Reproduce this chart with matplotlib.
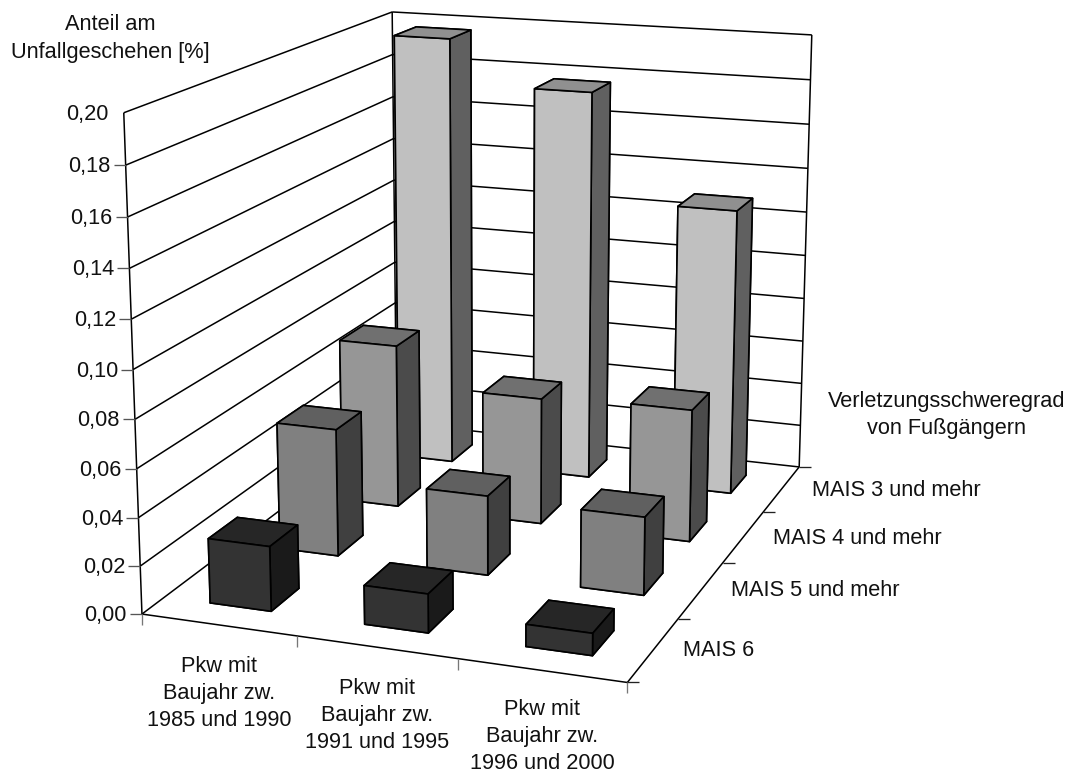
import numpy as np
import matplotlib
matplotlib.use("Agg")
import matplotlib.pyplot as plt
from matplotlib.lines import Line2D
from mpl_toolkits.mplot3d.art3d import Line3DCollection

plt.rcParams['font.family'] = ['Liberation Sans', 'DejaVu Sans']

vehicle_groups = ["Pkw mit\nBaujahr zw.\n1985 und 1990",
                  "Pkw mit\nBaujahr zw.\n1991 und 1995",
                  "Pkw mit\nBaujahr zw.\n1996 und 2000"]
severity_groups = ["MAIS 6", "MAIS 5 und mehr", "MAIS 4 und mehr", "MAIS 3 und mehr"]
z_ticks = [0.00, 0.02, 0.04, 0.06, 0.08, 0.10, 0.12, 0.14, 0.16, 0.18, 0.20]

mais_6 = [0.027, 0.016, 0.009]
mais_5 = [0.055, 0.034, 0.033]
mais_4 = [0.073, 0.056, 0.058]
mais_3 = [0.197, 0.177, 0.129]
series = [mais_6, mais_5, mais_4, mais_3]

# front, side and top shades for each series
face_colors = ["#333333", "#808080", "#969696", "#c0c0c0"]
side_colors = ["#1a1a1a", "#404040", "#4b4b4b", "#606060"]
top_colors = ["#262626", "#606060", "#707070", "#909090"]

W, H = 1072, 774
Z_SCALE = 20.0
FONT_SIZE = 15.7


def fit_camera():
    """Camera matrix for the box, solved from where its corners sit on the canvas."""
    anchors = [((0, 0, 0), (142, 614)), ((1, 0, 0), (297, 637)), ((2, 0, 0), (458, 659)),
               ((3, 0, 0), (627, 682)), ((3, 1, 0), (678, 619)), ((3, 2, 0), (723, 563)),
               ((3, 3, 0), (763, 512)), ((3, 4, 0), (799, 467)), ((0, 0, .2), (123, 113)),
               ((0, 4, .2), (392, 12)), ((3, 4, .2), (812, 35)), ((0, 0, .18), (126, 165)),
               ((0, 0, .16), (128, 217)), ((0, 0, .06), (137, 468)), ((0, 0, .02), (140, 566))]
    rows, rhs = [], []
    for (x, y, z), (u, v) in anchors:
        z = z * Z_SCALE
        v = H - v
        rows.append([x, y, z, 1, 0, 0, 0, 0, -u * x, -u * y, -u * z])
        rhs.append(u)
        rows.append([0, 0, 0, 0, x, y, z, 1, -v * x, -v * y, -v * z])
        rhs.append(v)
    p = np.linalg.lstsq(np.array(rows, float), np.array(rhs, float), rcond=None)[0]
    cam = np.array([p[:4], p[4:8], [*p[8:], 1.0]])
    cam[:, 2] *= Z_SCALE
    return cam


CAM = fit_camera()
# Depth row: grows with distance from the viewer, so faces sort back to front.
DEPTH = CAM[2] - np.array([0, 0, 0, 0.5 * CAM[2, 3]])
M = np.vstack([CAM[0], CAM[1], DEPTH, CAM[2]])


def to_canvas(x, y, z):
    q = CAM @ np.array([x, y, z, 1.0])
    return q[0] / q[2], H - q[1] / q[2]


fig = plt.figure(figsize=(W / 100, H / 100), dpi=100, facecolor="white")
ax = fig.add_axes([0, 0, 1, 1], projection="3d")
ax.computed_zorder = False
ax.set_axis_off()
ax.get_proj = lambda: M
ax.apply_aspect = lambda position=None: None

n_x, n_y = len(vehicle_groups), len(severity_groups)
top_z = z_ticks[-1]

# walls and floor outline
segments = []
for z in z_ticks:
    segments.append([(0, 0, z), (0, n_y, z)])
    segments.append([(0, n_y, z), (n_x, n_y, z)])
for x, y in [(0, 0), (0, n_y), (n_x, n_y)]:
    segments.append([(x, y, 0), (x, y, top_z)])
segments.append([(0, 0, 0), (n_x, 0, 0)])
segments.append([(n_x, 0, 0), (n_x, n_y, 0)])
ax.add_collection3d(Line3DCollection(segments, colors="black", linewidths=1.1, zorder=1))

# bars, back row first
BAR = 0.4
for row in range(n_y - 1, -1, -1):
    for col in range(n_x):
        front, side, top = face_colors[row], side_colors[row], top_colors[row]
        ax.bar3d(col + 0.3, row + 0.3, 0, BAR, BAR, series[row][col],
                 color=[front, top, front, front, side, side], shade=False,
                 edgecolor="black", linewidth=1.2, zorder=10 + (n_y - row) * 10 + col)

ax.viewLim.intervalx = (0, W)
ax.viewLim.intervaly = (0, H)


def canvas_line(u0, v0, u1, v1, color):
    fig.add_artist(Line2D([u0 / W, u1 / W], [1 - v0 / H, 1 - v1 / H],
                          color=color, lw=0.95, solid_capstyle="butt"))


def canvas_text(u, v, s, **kw):
    fig.text(u / W, 1 - (v + 1.5) / H, s, fontsize=FONT_SIZE, color="#111111",
             linespacing=1.38, **kw)


# value axis ticks and labels
for z in z_ticks:
    u, v = to_canvas(0, 0, z)
    if z < top_z:
        canvas_line(u - 12, v, u, v, "#555555")
    canvas_text(u - 15, v, f"{z:.2f}".replace(".", ","), ha="right", va="center")

# vehicle axis ticks and labels
for i in range(n_x + 1):
    u, v = to_canvas(i, 0, 0)
    canvas_line(u, v, u, v + 11, "#777777")
label_spots = [(219, 692), (377, 714), (542, 735)]
for (u, v), s in zip(label_spots, vehicle_groups):
    canvas_text(u, v, s, ha="center", va="center")

# severity axis ticks and labels
for i in range(n_y + 1):
    u, v = to_canvas(n_x, i, 0)
    canvas_line(u, v, u + 12, v, "#222222")
severity_spots = [(683, 649), (731, 589), (773, 537), (812, 489)]
for (u, v), s in zip(severity_spots, severity_groups):
    canvas_text(u, v, s, ha="left", va="center")

canvas_text(110, 37, "Anteil am\nUnfallgeschehen [%]", ha="center", va="center")
canvas_text(946.5, 413.5, "Verletzungsschweregrad\nvon Fußgängern", ha="center", va="center")

fig.savefig("out.png", dpi=100, facecolor="white")
